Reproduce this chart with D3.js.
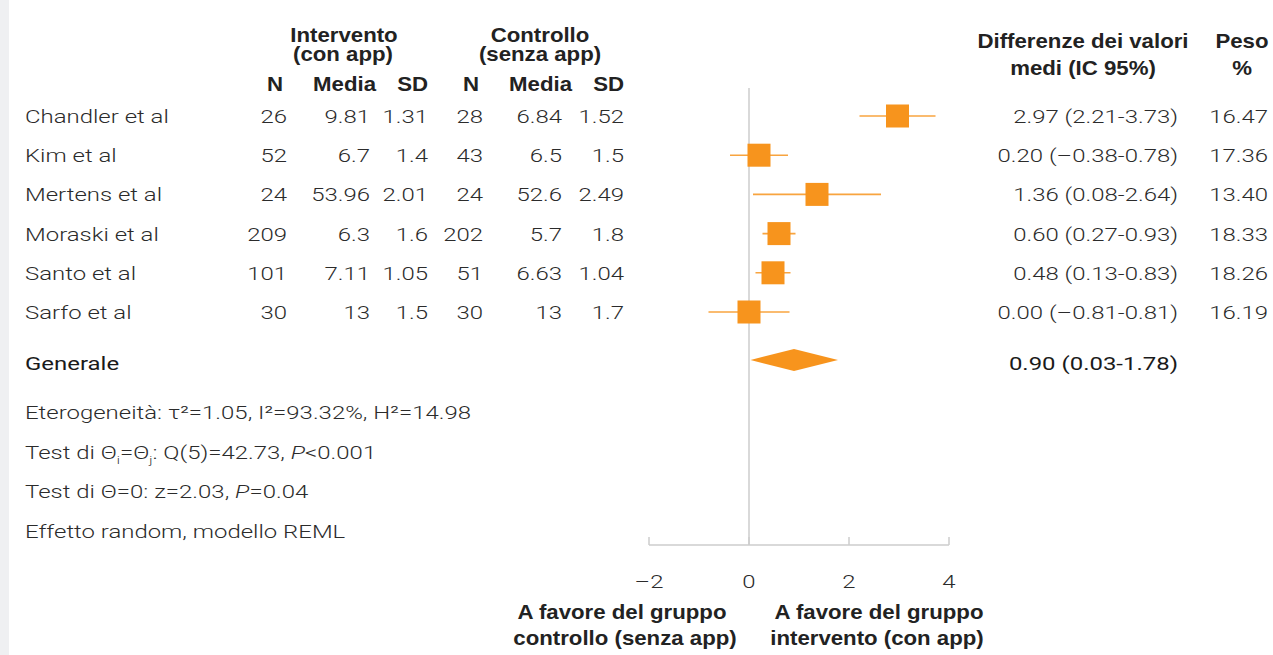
<!DOCTYPE html>
<html><head><meta charset="utf-8">
<script src="https://cdn.jsdelivr.net/npm/d3@7"></script>
<style>
html,body{margin:0;padding:0;background:#fff;}
svg{display:block;}
.lt{font-family:Roboto,"Liberation Sans",sans-serif;font-weight:300;fill:#2b2b2b;font-size:19px;}
.rg{font-family:Roboto,"Liberation Sans",sans-serif;font-weight:400;fill:#1a1a1a;font-size:19px;}
.bd{font-family:"Liberation Sans",Arial,sans-serif;font-weight:700;fill:#222;font-size:19.5px;}
</style></head><body>
<svg id="c" width="1273" height="655"></svg>
<script>
const studies = ["Chandler et al","Kim et al","Mertens et al","Moraski et al","Santo et al","Sarfo et al"];
const nInt = [26,52,24,209,101,30];
const meanInt = [9.81,6.7,53.96,6.3,7.11,13];
const sdInt = [1.31,1.4,2.01,1.6,1.05,1.5];
const nCtrl = [28,43,24,202,51,30];
const meanCtrl = [6.84,6.5,52.6,5.7,6.63,13];
const sdCtrl = [1.52,1.5,2.49,1.8,1.04,1.7];
const md = [2.97,0.20,1.36,0.60,0.48,0.00];
const ciLo = [2.21,-0.38,0.08,0.27,0.13,-0.81];
const ciHi = [3.73,0.78,2.64,0.93,0.83,0.81];
const weight = [16.47,17.36,13.40,18.33,18.26,16.19];
const overall = {label:"Generale", md:0.90, lo:0.03, hi:1.78};
const xTicks = [-2,0,2,4];

const svg = d3.select("#c");
const orange = "#f7941d";
const grey = "#cccccc";
const SXL = 1.26, SXB = 1.14;

// left strip
svg.append("rect").attr("x",0).attr("y",0).attr("width",9).attr("height",655).attr("fill","#eff0f2");

const x = d3.scaleLinear().domain([-2,4]).range([649,949]);
const y = d3.scalePoint().domain(studies).range([116,312]);
const yOverall = 362;
const dy = 7;

const fmt = v => (v<0?"\u2013":"") + Math.abs(v).toFixed(2);

function T(cls, xx, yy, anchor){
  const sx = cls==="bd" ? SXB : SXL;
  return svg.append("text").attr("class",cls)
    .attr("transform",`translate(${xx},${yy}) scale(${sx},1)`)
    .attr("text-anchor",anchor||"start");
}

// headers
function bold(t,xx,yy,anchor){T("bd",xx,yy,anchor||"middle").text(t);}
bold("Intervento",344,42); bold("(con app)",343,61);
bold("Controllo",540,42); bold("(senza app)",540,61);
const hdr = [["N",283],["Media",376],["SD",428],["N",479],["Media",572],["SD",624]];
hdr.forEach(h=>bold(h[0],h[1],91,"end"));
bold("Differenze dei valori",1083,48); bold("medi (IC 95%)",1083,75);
bold("Peso",1242,48); bold("%",1242,75);

// rows
const cols = [[nInt,287],[meanInt,370],[sdInt,428],[nCtrl,483],[meanCtrl,562],[sdCtrl,624]];
studies.forEach((s,i)=>{
  const yy = y(s)+dy;
  T("lt",25,yy).text(s);
  cols.forEach(c=>T("lt",c[1],yy,"end").text(String(c[0][i])));
  T("lt",1178,yy,"end").text(md[i].toFixed(2)+" ("+fmt(ciLo[i])+"-"+fmt(ciHi[i])+")");
  T("lt",1268,yy,"end").text(weight[i].toFixed(2));
});
T("rg",25,yOverall+dy+1).text(overall.label);
T("rg",1178,yOverall+dy+1,"end").text(overall.md.toFixed(2)+" ("+fmt(overall.lo)+"-"+fmt(overall.hi)+")");

// reference line & axis
svg.append("line").attr("x1",x(0)).attr("x2",x(0)).attr("y1",88).attr("y2",545).attr("stroke",grey).attr("stroke-width",1.5);
const axisY = 545;
svg.append("line").attr("x1",x(-2)).attr("x2",x(4)).attr("y1",axisY).attr("y2",axisY).attr("stroke",grey).attr("stroke-width",1.5);
xTicks.forEach(t=>{
  svg.append("line").attr("x1",x(t)).attr("x2",x(t)).attr("y1",axisY).attr("y2",axisY-8).attr("stroke",grey).attr("stroke-width",1.5);
  T("lt",x(t),588,"middle").text(t<0?"\u2013"+Math.abs(t):String(t));
});

// CI lines and squares
const sq = 23;
studies.forEach((s,i)=>{
  svg.append("line").attr("x1",x(ciLo[i])).attr("x2",x(ciHi[i])).attr("y1",y(s)).attr("y2",y(s)).attr("stroke",orange).attr("stroke-width",1.6).attr("stroke-opacity",0.85);
  svg.append("rect").attr("x",x(md[i])-sq/2).attr("y",y(s)-sq/2).attr("width",sq).attr("height",sq).attr("fill",orange);
});
// diamond
const dh = 11;
svg.append("path").attr("d",`M${x(overall.lo)},${yOverall-2}L${x(overall.md)},${yOverall-2-dh}L${x(overall.hi)},${yOverall-2}L${x(overall.md)},${yOverall-2+dh}Z`).attr("fill",orange);

// stats
T("lt",25,419).text("Eterogeneità: \u03c4\u00b2=1.05, I\u00b2=93.32%, H\u00b2=14.98");
let t2 = T("lt",25,459);
t2.append("tspan").text("Test di \u0398");
t2.append("tspan").attr("font-size","11px").attr("dy",5).text("i");
t2.append("tspan").attr("dy",-5).text("=\u0398");
t2.append("tspan").attr("font-size","11px").attr("dy",5).text("j");
t2.append("tspan").attr("dy",-5).text(": Q(5)=42.73, ");
t2.append("tspan").attr("font-style","italic").text("P");
t2.append("tspan").text("<0.001");
let t3 = T("lt",25,498);
t3.append("tspan").text("Test di \u0398=0: z=2.03, ");
t3.append("tspan").attr("font-style","italic").text("P");
t3.append("tspan").text("=0.04");
T("lt",25,538).text("Effetto random, modello REML");

// bottom labels
bold("A favore del gruppo",622,619); bold("controllo (senza app)",625,645);
bold("A favore del gruppo",879,619); bold("intervento (con app)",877,645);
</script>
</body></html>
